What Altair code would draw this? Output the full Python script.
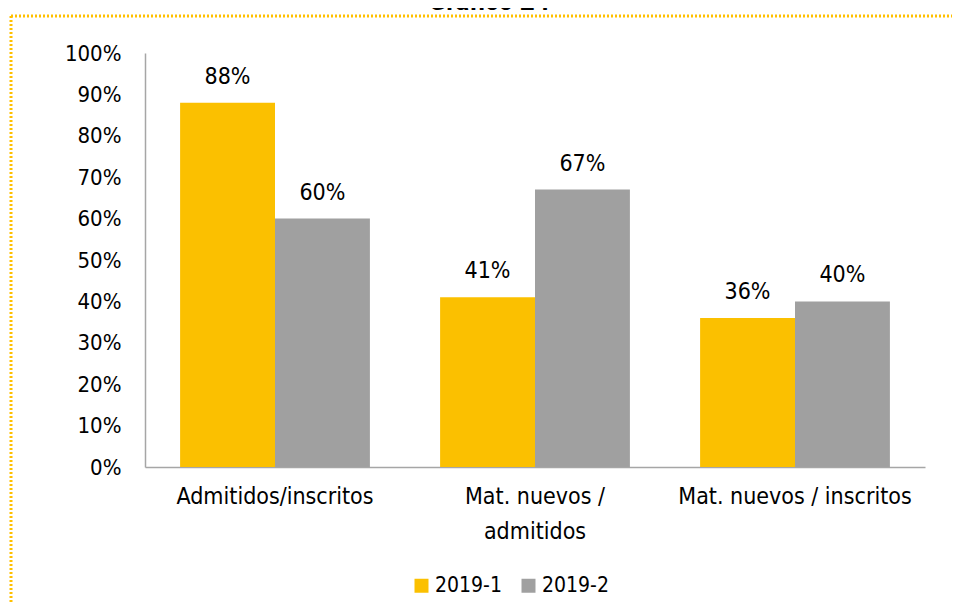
import altair as alt
import pandas as pd

categories = ["Admitidos/inscritos", "Mat. nuevos / admitidos", "Mat. nuevos / inscritos"]
series = ["2019-1", "2019-2"]
values_2019_1 = [0.88, 0.41, 0.36]
values_2019_2 = [0.60, 0.67, 0.40]
colors = ["#FBC000", "#A0A0A0"]
title_text = "Gráfico 24"

rows = []
for c, a, b in zip(categories, values_2019_1, values_2019_2):
    rows.append({"cat": c, "serie": series[0], "value": a})
    rows.append({"cat": c, "serie": series[1], "value": b})
df = pd.DataFrame(rows)

FONT = "DejaVu Sans Condensed, DejaVu Sans, sans-serif"

x = alt.X("cat:N", sort=categories, title=None,
          scale=alt.Scale(paddingInner=0.27, paddingOuter=0.135),
          axis=alt.Axis(labelAngle=0, labelFontSize=23, labelFont=FONT, labelColor="#000000",
                        labelPadding=18, ticks=False, domainColor="#A6A6A6", domainWidth=1.5,
                        labelLineHeight=35, labelLimit=400,
                        labelExpr="datum.value == 'Mat. nuevos / admitidos' ? ['Mat. nuevos /', 'admitidos'] : datum.value"))
y = alt.Y("value:Q", title=None,
          scale=alt.Scale(domain=[0, 1], nice=False),
          axis=alt.Axis(values=[i / 10 for i in range(11)], format=".0%", grid=False, ticks=False,
                        labelFontSize=22, labelFont=FONT, labelColor="#000000", labelPadding=24,
                        domainColor="#A6A6A6", domainWidth=1.5))
color = alt.Color("serie:N", scale=alt.Scale(domain=series, range=colors), title=None,
                  legend=alt.Legend(orient="none", legendX=266, legendY=522, direction="horizontal",
                                    symbolType="square", symbolSize=196, symbolStrokeWidth=0,
                                    labelFontSize=21, labelFont=FONT, labelColor="#000000",
                                    labelOffset=3))

base = alt.Chart(df)
bars = base.mark_bar().encode(x=x, xOffset=alt.XOffset("serie:N", sort=series), y=y, color=color)
labels = base.mark_text(baseline="bottom", dy=-14, fontSize=23, font=FONT, color="#000000").encode(
    x=alt.X("cat:N", sort=categories), xOffset=alt.XOffset("serie:N", sort=series),
    y="value:Q", text=alt.Text("value:Q", format=".0%"))

one = pd.DataFrame({"t": [title_text]})
title = alt.Chart(one).mark_text(fontSize=26, fontWeight="bold", font="Roboto", baseline="alphabetic",
                                 align="center", color="#000000").encode(
    x=alt.value(344), y=alt.value(-43), text="t:N")
border_v = alt.Chart(one).mark_rule(color="#FFC000", strokeWidth=3, strokeDash=[2, 2]).encode(
    x=alt.value(-134), y=alt.value(-37), y2=alt.value(560))
border_h = alt.Chart(one).mark_rule(color="#FFC000", strokeWidth=3, strokeDash=[2, 2]).encode(
    x=alt.value(-134), x2=alt.value(810), y=alt.value(-37))

chart = alt.layer(border_v, border_h, title, bars, labels).properties(
    width=780, height=414,
    padding={"left": 137, "top": 45, "right": 27, "bottom": 135},
    autosize=alt.AutoSizeParams(type="none"),
).configure_view(stroke=None).configure_legend(columnPadding=16)

chart.save("out.html", embed_options={"renderer": "svg", "actions": False})
